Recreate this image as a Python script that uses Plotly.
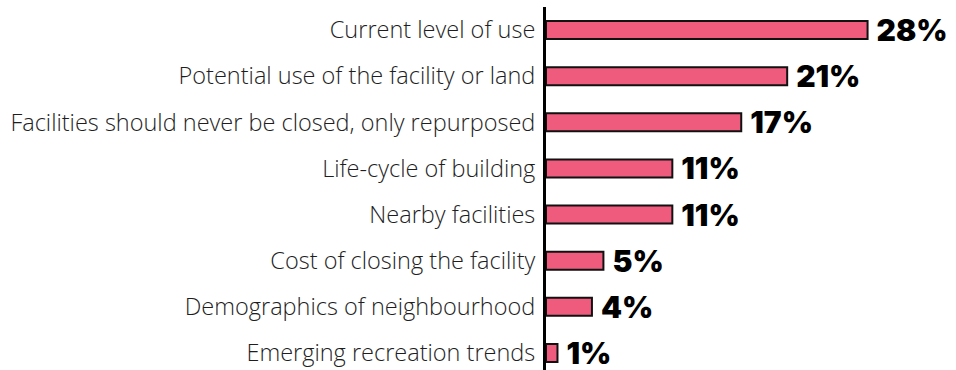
import plotly.graph_objects as go

categories = [
    "Current level of use",
    "Potential use of the facility or land",
    "Facilities should never be closed, only repurposed",
    "Life-cycle of building",
    "Nearby facilities",
    "Cost of closing the facility",
    "Demographics of neighbourhood",
    "Emerging recreation trends",
]
shares = [28, 21, 17, 11, 11, 5, 4, 1]
labels = [f"{v}%" for v in shares]

fig = go.Figure(
    go.Bar(
        x=shares,
        y=categories,
        orientation="h",
        width=0.39,
        marker=dict(color="#EF5B7D", line=dict(color="#111111", width=2)),
        text=labels,
        textposition="outside",
        texttemplate=" %{text}",
        constraintext="none",
        textfont=dict(family="Inter", size=30, color="#000000", weight=900),
        cliponaxis=False,
        hoverinfo="skip",
    )
)

tick_font = dict(family="Open Sans", size=23.5, color="#1e1e1e", weight=300)

fig.update_layout(
    width=956,
    height=370,
    margin=dict(l=546, r=0, t=7, b=0),
    paper_bgcolor="white",
    plot_bgcolor="white",
    showlegend=False,
    bargap=0.6,
    font=tick_font,
)
fig.update_xaxes(range=[0, 35.7], visible=False, showgrid=False, zeroline=False)
fig.update_yaxes(
    categoryorder="array",
    categoryarray=categories,
    range=[7.37, -0.5],
    showline=True,
    linecolor="#000000",
    linewidth=3,
    showgrid=False,
    zeroline=False,
    ticks="",
    ticklabelstandoff=3,
    tickfont=tick_font,
)

fig.write_html("out.html")
